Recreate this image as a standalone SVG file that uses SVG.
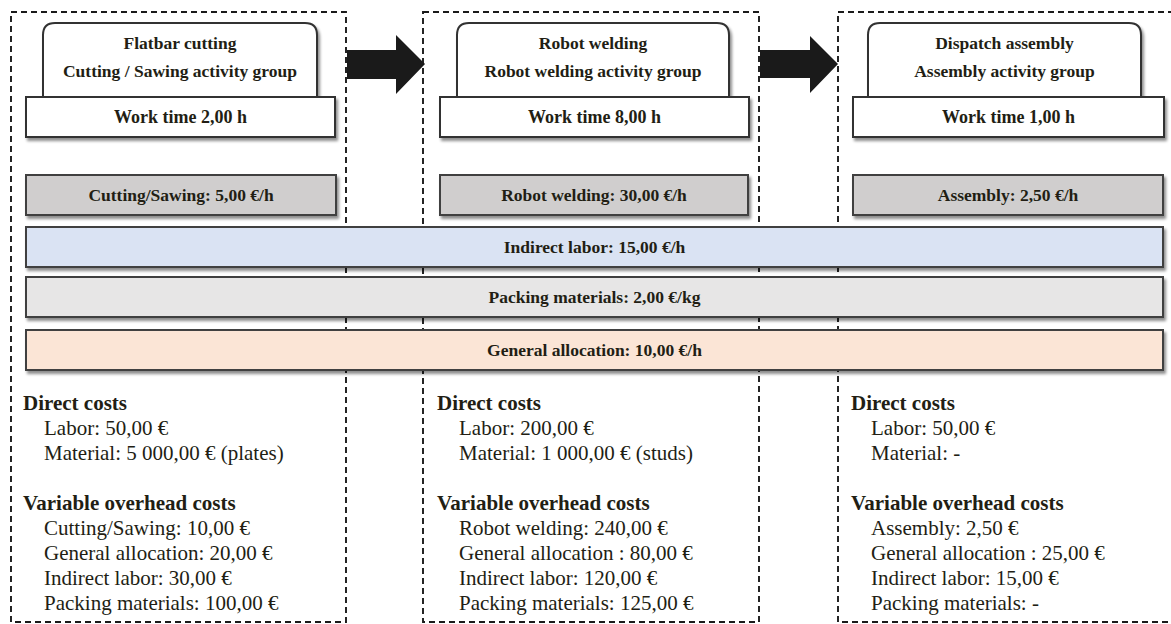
<svg xmlns="http://www.w3.org/2000/svg" width="1171" height="624" viewBox="0 0 1171 624">
  <style>
    .frame { fill: none; stroke: #1a1a1a; stroke-width: 1.9; stroke-dasharray: 6 4; }
    .card { fill: #ffffff; stroke: #333333; stroke-width: 2; }
    .rate { fill: #d0cece; stroke: #404040; stroke-width: 2; }
    .labor { fill: #dae3f3; stroke: #404040; stroke-width: 2; }
    .pack { fill: #e7e6e6; stroke: #404040; stroke-width: 2; }
    .alloc { fill: #fbe5d6; stroke: #404040; stroke-width: 2; }
    .arrow { fill: #1a1a1a; }
    text { font-family: "Liberation Serif", "Times New Roman", serif; fill: #221e14; }
    .head { font-size: 17.5px; font-weight: bold; text-anchor: middle; }
    .time { font-size: 18px; font-weight: bold; text-anchor: middle; }
    .bar { font-size: 17.5px; font-weight: bold; text-anchor: middle; }
    .sec { font-size: 21px; font-weight: bold; }
    .item { font-size: 21px; }
  </style>
  <defs>
    <filter id="shadow" x="-5%" y="-20%" width="112%" height="160%">
      <feGaussianBlur in="SourceAlpha" stdDeviation="1.6"/>
      <feOffset dx="2" dy="3" result="off"/>
      <feComponentTransfer><feFuncA type="linear" slope="0.45"/></feComponentTransfer>
      <feMerge><feMergeNode/><feMergeNode in="SourceGraphic"/></feMerge>
    </filter>
  </defs>

  <rect width="1171" height="624" fill="#ffffff"/>

  <!-- stage frames -->
  <g id="frames">
    <rect class="frame" x="11" y="12" width="335" height="610"/>
    <rect class="frame" x="423" y="12" width="336" height="610"/>
    <rect class="frame" x="838" y="12" width="340" height="610"/>
  </g>

  <!-- flow arrows between stages -->
  <g id="connectors">
    <polygon class="arrow" points="347,50 396,50 396,35 425,64 396,94 396,79 347,79"/>
    <polygon class="arrow" points="760,50 810,50 810,36 838,64 810,93 810,78 760,78"/>
  </g>

  <!-- stage 1 -->
  <g id="stage-cutting" filter="url(#shadow)">
    <path class="card" d="M43,100 V35 Q43,23 55,23 H305 Q317,23 317,35 V100"/>
    <rect class="card" x="26" y="97" width="309" height="40"/>
  </g>
  <g id="stage-cutting-text">
    <text class="head" x="180" y="49">Flatbar cutting</text>
    <text class="head" x="180" y="77">Cutting / Sawing activity group</text>
    <text class="time" x="180.5" y="123">Work time 2,00 h</text>
  </g>

  <!-- stage 2 -->
  <g id="stage-welding" filter="url(#shadow)">
    <path class="card" d="M457,100 V35 Q457,23 469,23 H717 Q729,23 729,35 V100"/>
    <rect class="card" x="440" y="97" width="309" height="40"/>
  </g>
  <g id="stage-welding-text">
    <text class="head" x="593" y="49">Robot welding</text>
    <text class="head" x="593" y="77">Robot welding activity group</text>
    <text class="time" x="594.5" y="123">Work time 8,00 h</text>
  </g>

  <!-- stage 3 -->
  <g id="stage-assembly" filter="url(#shadow)">
    <path class="card" d="M868,100 V35 Q868,23 880,23 H1129 Q1141,23 1141,35 V100"/>
    <rect class="card" x="853" y="97" width="311" height="40"/>
  </g>
  <g id="stage-assembly-text">
    <text class="head" x="1004.5" y="49">Dispatch assembly</text>
    <text class="head" x="1004.5" y="77">Assembly activity group</text>
    <text class="time" x="1008.5" y="123">Work time 1,00 h</text>
  </g>

  <!-- activity rates -->
  <g id="rate-cutting">
    <rect class="rate" x="26" y="175" width="310" height="40" filter="url(#shadow)"/>
    <text class="bar" x="181" y="201">Cutting/Sawing: 5,00 €/h</text>
  </g>
  <g id="rate-welding">
    <rect class="rate" x="440" y="175" width="308" height="40" filter="url(#shadow)"/>
    <text class="bar" x="594" y="201">Robot welding: 30,00 €/h</text>
  </g>
  <g id="rate-assembly">
    <rect class="rate" x="853" y="175" width="310" height="40" filter="url(#shadow)"/>
    <text class="bar" x="1008" y="201">Assembly: 2,50 €/h</text>
  </g>

  <!-- shared overhead rates -->
  <g id="rate-indirect-labor">
    <rect class="labor" x="26" y="227" width="1137" height="40" filter="url(#shadow)"/>
    <text class="bar" x="594.5" y="253">Indirect labor: 15,00 €/h</text>
  </g>
  <g id="rate-packing">
    <rect class="pack" x="26" y="277" width="1137" height="40" filter="url(#shadow)"/>
    <text class="bar" x="594.5" y="303">Packing materials: 2,00 €/kg</text>
  </g>
  <g id="rate-general">
    <rect class="alloc" x="26" y="330" width="1137" height="40" filter="url(#shadow)"/>
    <text class="bar" x="594.5" y="356">General allocation: 10,00 €/h</text>
  </g>

  <!-- cost summaries -->
  <g id="costs-cutting">
    <text class="sec" x="23" y="410">Direct costs</text>
    <text class="item" x="44" y="435">Labor: 50,00 €</text>
    <text class="item" x="44" y="460">Material: 5 000,00 € (plates)</text>
    <text class="sec" x="23" y="510">Variable overhead costs</text>
    <text class="item" x="44" y="535">Cutting/Sawing: 10,00 €</text>
    <text class="item" x="44" y="560">General allocation: 20,00 €</text>
    <text class="item" x="44" y="585">Indirect labor: 30,00 €</text>
    <text class="item" x="44" y="610">Packing materials: 100,00 €</text>
  </g>
  <g id="costs-welding">
    <text class="sec" x="437" y="410">Direct costs</text>
    <text class="item" x="459" y="435">Labor: 200,00 €</text>
    <text class="item" x="459" y="460">Material: 1 000,00 € (studs)</text>
    <text class="sec" x="437" y="510">Variable overhead costs</text>
    <text class="item" x="459" y="535">Robot welding: 240,00 €</text>
    <text class="item" x="459" y="560">General allocation : 80,00 €</text>
    <text class="item" x="459" y="585">Indirect labor: 120,00 €</text>
    <text class="item" x="459" y="610">Packing materials: 125,00 €</text>
  </g>
  <g id="costs-assembly">
    <text class="sec" x="851" y="410">Direct costs</text>
    <text class="item" x="871" y="435">Labor: 50,00 €</text>
    <text class="item" x="871" y="460">Material: -</text>
    <text class="sec" x="851" y="510">Variable overhead costs</text>
    <text class="item" x="871" y="535">Assembly: 2,50 €</text>
    <text class="item" x="871" y="560">General allocation : 25,00 €</text>
    <text class="item" x="871" y="585">Indirect labor: 15,00 €</text>
    <text class="item" x="871" y="610">Packing materials: -</text>
  </g>
</svg>
